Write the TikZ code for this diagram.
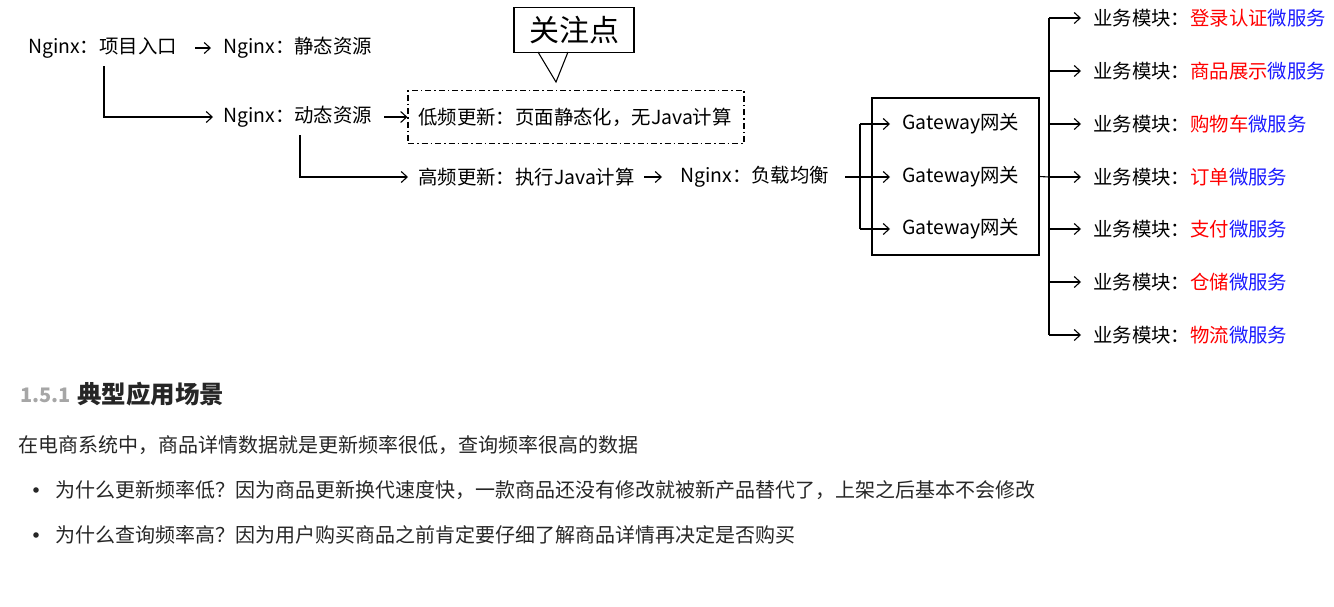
\documentclass[tikz,border=0pt]{standalone}
\usepackage{fontspec}
\setmainfont{Noto Sans CJK SC}
\usetikzlibrary{arrows.meta}
\definecolor{myred}{HTML}{FF0000}
\definecolor{myblue}{HTML}{1A1AFF}
\begin{document}
\begin{tikzpicture}[x=1pt,y=-1pt,
  lbl/.style={anchor=west,inner sep=0pt,font=\fontsize{19.4}{23}\selectfont},
  body/.style={anchor=west,inner sep=0pt,font=\fontsize{20}{23}\selectfont,text=black!85},
  arr/.style={-{Straight Barb[length=6pt,width=11pt]},line width=1.1pt},
  ln/.style={line width=1.1pt}]
\useasboundingbox (0,0) rectangle (1334,606);
% left chain
\node[lbl] (a) at (28,48) {Nginx：项目入口};
\node[lbl] (b) at (223,48) {Nginx：静态资源};
\draw[arr] (195,48) -- ([xshift=-12pt]b.west);
\node[lbl] (c) at (223,117) {Nginx：动态资源};
\coordinate (ca) at (104,66);
\draw[arr] (ca) |- ([xshift=-10pt]c.west);
\node[draw,dash pattern=on 6pt off 3pt on 1.5pt off 3pt,line width=1.1pt,minimum width=336pt,minimum height=53pt,inner sep=0pt] (low) at (576,117) {};
\node[lbl] (lowt) at (418,117) {低频更新：页面静态化，无Java计算};
\draw[arr] (384,117) -- (low.west);
% callout
\node[draw,line width=1.1pt,fill=white,minimum width=120pt,minimum height=45pt,inner sep=0pt,font=\fontsize{30}{34}\selectfont] (call) at (574,30) {关注点};
\coordinate (tip) at (556,82);
\draw[line width=1.1pt] (538,52) -- (tip) -- (568,52);
\node[lbl] (d) at (418,177) {高频更新：执行Java计算};
\coordinate (cb) at (300,135);
\draw[arr] (cb) |- ([xshift=-10pt]d.west);
\node[lbl] (e) at (680,177) {Nginx：负载均衡};
\draw[arr] (644,177) -- (662,177);
% gateways
\node[draw,line width=1.1pt,minimum width=167pt,minimum height=157pt,inner sep=0pt] (gw) at (955.5,176.5) {};
\foreach \y/\n in {124/g1,177/g2,229/g3}{
  \node[lbl] (\n) at (902,\y) {Gateway网关};
  \draw[arr] (860,\y) -- (890,\y);
}
\coordinate (ej) at (860,177);
\draw[ln] (845,177) -- (ej);
\draw[ln] (860,124) -- (860,229);
% services
\coordinate (gj) at (1049,177);
\draw[ln] (gw.east) -- (gj);
\draw[ln] (1049,18) -- (1049,335);
\foreach \y/\n/\s in {18/s1/登录认证,71/s2/商品展示,124/s3/购物车,177/s4/订单,229/s5/支付,282/s6/仓储,335/s7/物流}{
  \draw[arr] (1049,\y) -- (1081,\y);
  \node[lbl] (\n) at (1093,\y) {业务模块：\textcolor{myred}{\s}\textcolor{myblue}{微服务}};
}
% text below
\node[anchor=west,inner sep=0pt,font=\fontsize{20}{24}\selectfont\bfseries,text=black!35] (h1) at (20,395) {1.5.1};
\node[anchor=west,inner sep=0pt,font=\fontsize{24.5}{28}\selectfont\bfseries,text=black!85] (h2) at (77,394) {典型应用场景};
\node[body] (p) at (18,445) {在电商系统中，商品详情数据就是更新频率很低，查询频率很高的数据};
\fill[black!85] (36,490) circle (2.8pt) (36,535) circle (2.8pt);
\node[body] (b1) at (55,490) {为什么更新频率低？因为商品更新换代速度快，一款商品还没有修改就被新产品替代了，上架之后基本不会修改};
\node[body] (b2) at (55,535) {为什么查询频率高？因为用户购买商品之前肯定要仔细了解商品详情再决定是否购买};
\end{tikzpicture}
\end{document}
